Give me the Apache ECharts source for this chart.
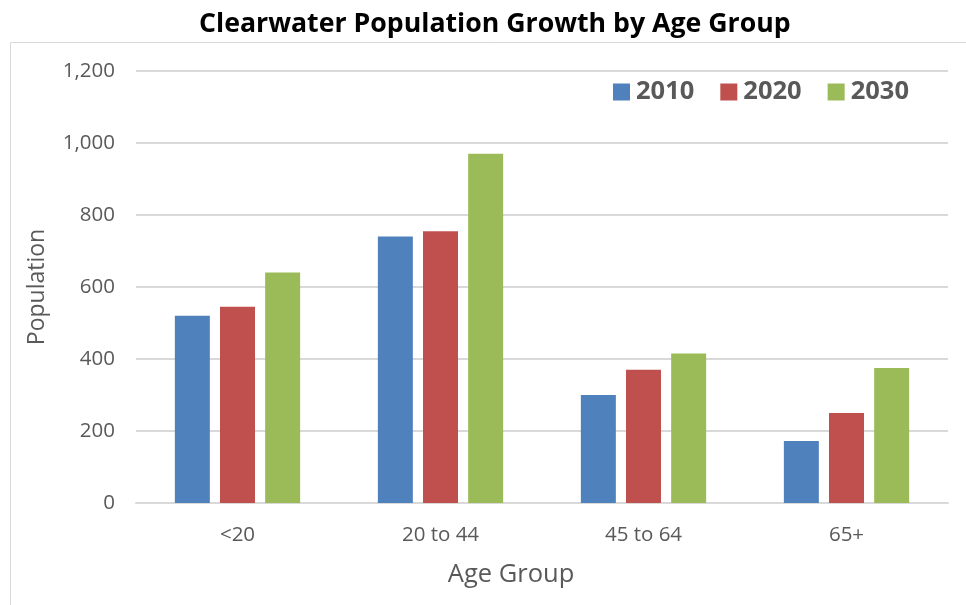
<!DOCTYPE html>
<html>
<head>
<meta charset="utf-8">
<script src="https://cdn.jsdelivr.net/npm/echarts@6/dist/echarts.min.js"></script>
<style>
  html, body { margin: 0; padding: 0; background: #fff; }
  #chart { width: 966px; height: 605px; }
</style>
</head>
<body>
<div id="chart"></div>
<script>
// Population by age group for three census/projection years
const categories = ['<20', '20 to 44', '45 to 64', '65+'];
const pop2010 = [520, 740, 300, 172];
const pop2020 = [545, 755, 370, 250];
const pop2030 = [640, 970, 415, 375];
const yTicks = { min: 0, max: 1200, interval: 200 };

const FONT = '"Open Sans", sans-serif';
const chart = echarts.init(document.getElementById('chart'));

function barSeries(name, data, color) {
  return {
    name: name,
    type: 'bar',
    data: data,
    barWidth: 35,
    barGap: '29%',
    itemStyle: { color: color },
    emphasis: { disabled: true }
  };
}

chart.setOption({
  animation: false,
  backgroundColor: '#ffffff',
  title: {
    text: 'Clearwater Population Growth by Age Group',
    left: 194,
    top: 6,
    textStyle: { fontFamily: FONT, fontWeight: 'bold', fontSize: 26.7, color: '#000000' }
  },
  graphic: [{
    type: 'rect',
    shape: { x: 10.5, y: 42.5, width: 980, height: 600 },
    style: { fill: 'none', stroke: '#d9d9d9', lineWidth: 1 },
    silent: true
  }],
  legend: {
    left: 608,
    top: 74,
    itemWidth: 17,
    itemHeight: 17,
    itemGap: 26,
    icon: 'rect',
    textStyle: { fontFamily: FONT, fontWeight: 'bold', fontSize: 25.5, color: '#595959', padding: [0, 0, 0, 1] }
  },
  grid: { left: 136, right: 18, top: 71, bottom: 102 },
  xAxis: {
    type: 'category',
    data: categories,
    name: 'Age Group',
    nameLocation: 'middle',
    nameGap: 59,
    nameTextStyle: { fontFamily: FONT, fontSize: 25.5, color: '#595959', padding: [0, 62, 0, 0] },
    axisLine: { lineStyle: { color: '#d9d9d9', width: 2 } },
    axisTick: { show: false },
    axisLabel: { fontFamily: FONT, fontSize: 20.5, color: '#595959', margin: 22 }
  },
  yAxis: {
    type: 'value',
    min: yTicks.min,
    max: yTicks.max,
    interval: yTicks.interval,
    name: 'Population',
    nameLocation: 'middle',
    nameGap: 87,
    nameTextStyle: { fontFamily: FONT, fontSize: 23, color: '#595959' },
    axisLine: { show: false },
    axisTick: { show: false },
    axisLabel: {
      fontFamily: FONT, fontSize: 20.5, color: '#595959', margin: 21,
      formatter: v => v.toLocaleString('en-US')
    },
    splitLine: { lineStyle: { color: '#d9d9d9', width: 2 } }
  },
  series: [
    barSeries('2010', pop2010, '#4f81bd'),
    barSeries('2020', pop2020, '#c0504d'),
    barSeries('2030', pop2030, '#9bbb59')
  ]
});
</script>
</body>
</html>
